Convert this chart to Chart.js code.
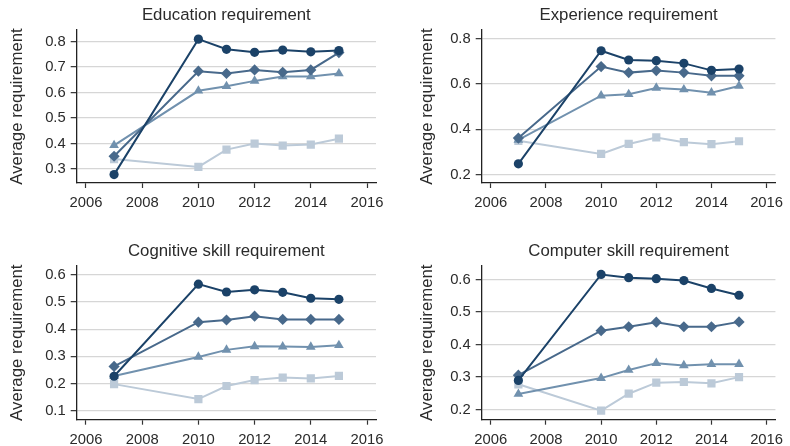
<!DOCTYPE html>
<html>
<head>
<meta charset="utf-8">
<script src="https://cdn.jsdelivr.net/npm/chart.js@4"></script>
<style>
  body { margin: 0; background: #fff; width: 790px; height: 446px; position: relative; overflow: hidden; }
  .panel { position: absolute; width: 395px; height: 223px; }
</style>
</head>
<body>
<div class="panel" style="left:0;top:0"><canvas id="chart-edu"></canvas></div>
<div class="panel" style="left:395px;top:0"><canvas id="chart-exp"></canvas></div>
<div class="panel" style="left:0;top:223px"><canvas id="chart-cog"></canvas></div>
<div class="panel" style="left:395px;top:223px"><canvas id="chart-comp"></canvas></div>
<script>
/* Average job requirements by year, four groups per panel */

const years = [2007, 2010, 2011, 2012, 2013, 2014, 2015];
const xTicks = [2006, 2008, 2010, 2012, 2014, 2016];

const eduCircle   = [0.278, 0.810, 0.770, 0.758, 0.767, 0.760, 0.765];
const eduDiamond  = [0.350, 0.684, 0.675, 0.689, 0.680, 0.689, 0.757];
const eduTriangle = [0.393, 0.607, 0.625, 0.646, 0.663, 0.663, 0.675];
const eduSquare   = [0.339, 0.308, 0.376, 0.400, 0.392, 0.396, 0.419];

const expCircle   = [0.247, 0.748, 0.707, 0.704, 0.692, 0.661, 0.667];
const expDiamond  = [0.361, 0.678, 0.651, 0.660, 0.651, 0.637, 0.637];
const expTriangle = [0.353, 0.549, 0.555, 0.583, 0.576, 0.562, 0.592];
const expSquare   = [0.349, 0.291, 0.335, 0.364, 0.343, 0.334, 0.347];

const cogCircle   = [0.227, 0.566, 0.537, 0.545, 0.536, 0.514, 0.510];
const cogDiamond  = [0.263, 0.426, 0.434, 0.448, 0.436, 0.436, 0.436];
const cogTriangle = [0.228, 0.298, 0.324, 0.337, 0.336, 0.335, 0.341];
const cogSquare   = [0.198, 0.143, 0.191, 0.213, 0.222, 0.219, 0.228];

const compCircle   = [0.290, 0.616, 0.606, 0.603, 0.597, 0.573, 0.552];
const compDiamond  = [0.306, 0.443, 0.455, 0.469, 0.455, 0.455, 0.470];
const compTriangle = [0.248, 0.297, 0.322, 0.343, 0.336, 0.340, 0.340];
const compSquare   = [0.278, 0.197, 0.249, 0.283, 0.285, 0.281, 0.300];

const eduTicks  = [0.3, 0.4, 0.5, 0.6, 0.7, 0.8];
const expTicks  = [0.2, 0.4, 0.6, 0.8];
const cogTicks  = [0.1, 0.2, 0.3, 0.4, 0.5, 0.6];
const compTicks = [0.2, 0.3, 0.4, 0.5, 0.6];

const FONT = '"Liberation Sans", Arial, Helvetica, sans-serif';
const TEXT = '#2b2b2b';

// marker / colour per group (dark to light)
const groupStyles = [
  { color: '#1b4268', pointStyle: 'circle',   radius: 4.6 },
  { color: '#48698b', pointStyle: 'rectRot',  radius: 5.6 },
  { color: '#7191ae', pointStyle: 'triangle', radius: 5.6 },
  { color: '#bccad8', pointStyle: 'rect',     radius: 5.8 },
];

function makePanel(id, title, series, yTicks, yMin, yMax, box) {
  const datasets = series.map((vals, i) => {
    const s = groupStyles[i];
    return {
      data: years.map((yr, k) => ({ x: yr, y: vals[k] })),
      borderColor: s.color,
      backgroundColor: s.color,
      borderWidth: 2,
      pointStyle: s.pointStyle,
      pointRadius: s.radius,
      pointBorderWidth: 0,
      pointBackgroundColor: s.color,
      tension: 0,
    };
  });

  return new Chart(document.getElementById(id), {
    type: 'line',
    data: { datasets },
    options: {
      responsive: true,
      maintainAspectRatio: false,
      animation: false,
      layout: { padding: { left: 0, right: box.padRight, top: 0, bottom: 0 } },
      plugins: {
        legend: { display: false },
        tooltip: { enabled: false },
        title: {
          display: true,
          text: title,
          fullSize: false,
          color: TEXT,
          font: { family: FONT, size: 16.8, weight: 'normal' },
          padding: { top: box.titleTop, bottom: box.titleBottom },
        },
      },
      scales: {
        x: {
          type: 'linear',
          min: 2005.67,
          max: 2016.32,
          afterBuildTicks: sc => { sc.ticks = xTicks.map(v => ({ value: v })); },
          afterFit: sc => { sc.height = box.xAxisH; },
          grid: { drawOnChartArea: false, tickLength: 5, tickColor: '#333', tickWidth: 1.2 },
          border: { color: '#222', width: 1.3 },
          ticks: {
            color: TEXT,
            padding: 6.5,
            font: { family: FONT, size: 14.8 },
            maxRotation: 0,
            callback: v => String(v),
          },
        },
        y: {
          type: 'linear',
          min: yMin,
          max: yMax,
          afterBuildTicks: sc => { sc.ticks = yTicks.map(v => ({ value: v })); },
          afterFit: sc => { sc.width = box.yAxisW; },
          grid: { color: '#d6d6d6', lineWidth: 1.3, tickLength: 6, tickColor: '#333', tickWidth: 1.2 },
          border: { color: '#222', width: 1.3 },
          ticks: {
            color: TEXT,
            padding: 5,
            font: { family: FONT, size: 14.8 },
            callback: v => v.toFixed(1),
          },
          title: {
            display: true,
            text: 'Average requirement',
            color: TEXT,
            font: { family: FONT, size: 16.8 },
            padding: { top: box.yTitlePad, bottom: 0 },
          },
        },
      },
    },
  });
}

const leftTop   = { yAxisW: 76.7, xAxisH: 40,   padRight: 19, titleTop: 5.2,  titleBottom: 4.6, yTitlePad: 6.8 };
const rightTop  = { yAxisW: 86.7, xAxisH: 40,   padRight: 10, titleTop: 5.2,  titleBottom: 4.6, yTitlePad: 22.4 };
const leftBot   = { yAxisW: 76.7, xAxisH: 26.3, padRight: 19, titleTop: 18.2, titleBottom: 4.3, yTitlePad: 6.8 };
const rightBot  = { yAxisW: 86.7, xAxisH: 26.3, padRight: 10, titleTop: 18.2, titleBottom: 4.3, yTitlePad: 22.4 };

makePanel('chart-edu', 'Education requirement',
  [eduCircle, eduDiamond, eduTriangle, eduSquare], eduTicks, 0.245, 0.846, leftTop);
makePanel('chart-exp', 'Experience requirement',
  [expCircle, expDiamond, expTriangle, expSquare], expTicks, 0.162, 0.84, rightTop);
makePanel('chart-cog', 'Cognitive skill requirement',
  [cogCircle, cogDiamond, cogTriangle, cogSquare], cogTicks, 0.067, 0.634, leftBot);
makePanel('chart-comp', 'Computer skill requirement',
  [compCircle, compDiamond, compTriangle, compSquare], compTicks, 0.169, 0.643, rightBot);
</script>
</body>
</html>
